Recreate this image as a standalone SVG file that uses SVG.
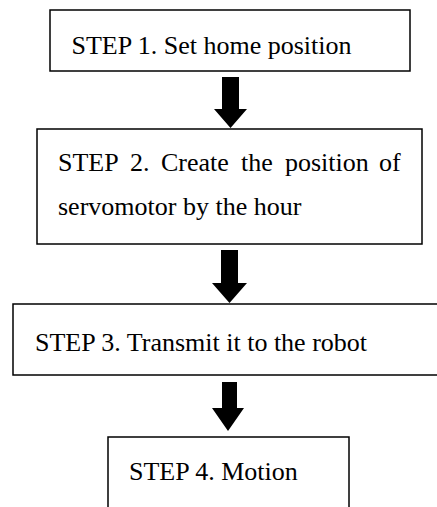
<svg xmlns="http://www.w3.org/2000/svg" width="437" height="507" viewBox="0 0 437 507">
<style>
.box{fill:#fff;stroke:#000;stroke-width:1.5}
.t{font-family:"Liberation Serif","Times New Roman",serif;font-size:26px;fill:#000}
.arr{fill:#000;stroke:none}
</style>
<rect width="437" height="507" fill="#fff"/>
<g id="step1">
<rect class="box" x="50" y="10" width="360" height="61"/>
<text class="t" x="71.5" y="54">STEP 1. Set home position</text>
</g>
<g id="step2">
<rect class="box" x="37" y="129" width="385" height="115"/>
<text class="t" y="171"><tspan x="58">STEP</tspan><tspan x="130">2.</tspan><tspan x="161">Create</tspan><tspan x="241">the</tspan><tspan x="285">position</tspan><tspan x="379">of</tspan></text>
<text class="t" x="58" y="215">servomotor by the hour</text>
</g>
<g id="step3">
<rect class="box" x="13" y="304" width="440" height="71"/>
<text class="t" x="35" y="351">STEP 3. Transmit it to the robot</text>
</g>
<g id="step4">
<rect class="box" x="108" y="437" width="241" height="90"/>
<text class="t" x="129" y="480">STEP 4. Motion</text>
</g>
<g id="connectors">
<polygon class="arr" points="222,77 239,77 239,109 247,109 230.5,128 214,109 222,109"/>
<polygon class="arr" points="221,250 238,250 238,283 247,283 229.5,303 212,283 221,283"/>
<polygon class="arr" points="222,382 237,382 237,408 244,408 228,431 212,408 222,408"/>
</g>
</svg>
